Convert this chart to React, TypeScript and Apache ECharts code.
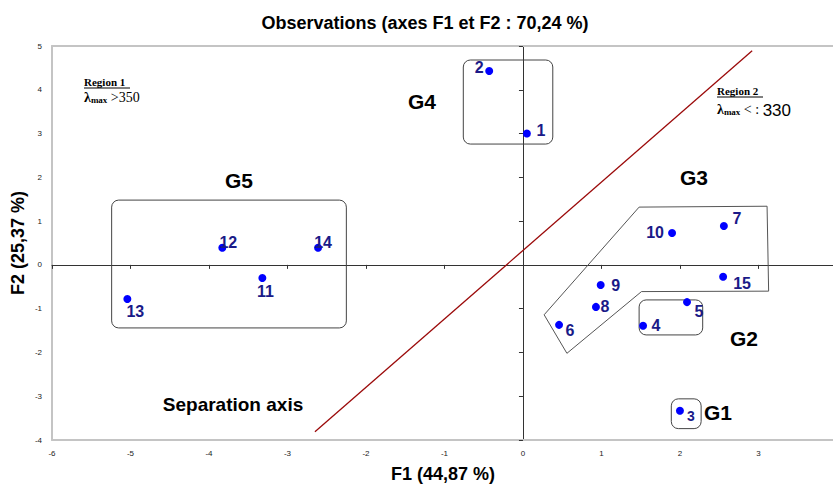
import React, { useEffect, useRef } from "react";
import * as echarts from "echarts";

const pointNames = ["1", "2", "3", "4", "5", "6", "7", "8", "9", "10", "11", "12", "13", "14", "15"];
const f1Values = [0.05, -0.43, 2.0, 1.53, 2.09, 0.46, 2.56, 0.93, 0.99, 1.9, -3.32, -3.83, -5.04, -2.61, 2.55];
const f2Values = [3.0, 4.43, -3.33, -1.39, -0.85, -1.37, 0.89, -0.96, -0.46, 0.73, -0.3, 0.39, -0.78, 0.39, -0.27];
const separationAxis = [[-2.65, -3.81], [2.92, 4.89]];
const groupBoxes = [
  { name: "G4", x1: -0.76, y1: 4.68, x2: 0.38, y2: 2.76 },
  { name: "G5", x1: -5.24, y1: 1.48, x2: -2.25, y2: -1.44 },
  { name: "G2", x1: 1.48, y1: -0.8, x2: 2.29, y2: -1.6 },
  { name: "G1", x1: 1.89, y1: -3.06, x2: 2.27, y2: -3.74 },
];
const g3Polygon = [
  [1.48, 1.32], [3.11, 1.34], [3.13, -0.6], [1.51, -0.61], [0.56, -2.02], [0.27, -1.14], [1.48, 1.32],
];
const xTicks = [-6, -5, -4, -3, -2, -1, 0, 1, 2, 3];
const yTicks = [-4, -3, -2, -1, 0, 1, 2, 3, 4, 5];

// label offsets (styling only) in pixels relative to the dot
const labelOffsets: [number, number][] = [
  [14, -3], [-10, -3], [11, 5], [13, 0], [12, 9], [11, 6], [13, -7], [9, 0], [15, 0], [-17, 0],
  [3, 13], [6, -5], [8, 12], [5, -5], [19, 7],
];

export default function App() {
  const ref = useRef<HTMLDivElement>(null);
  useEffect(() => {
    if (!ref.current) return;
    const chart = echarts.init(ref.current, undefined, { renderer: "svg" });
    const font = "Arial, 'Liberation Sans', sans-serif";
    const serif = "'Times New Roman', 'Liberation Serif', serif";
    const scatterData = pointNames.map((n, i) => ({
      value: [f1Values[i], f2Values[i]],
      name: n,
      label: {
        show: true,
        position: "inside",
        offset: labelOffsets[i],
        formatter: n,
        color: "#1a1a88",
        fontSize: n === "3" ? 14 : 16,
        fontWeight: "bold",
        fontFamily: font,
      },
    }));
    const xFmt = (v: number) => (xTicks.indexOf(v) >= 0 ? String(v) : "");
    const yFmt = (v: number) => (yTicks.indexOf(v) >= 0 ? String(v) : "");
    const baseX = { type: "value", min: -6, max: 3.95, interval: 1, splitLine: { show: false } };
    const baseY = { type: "value", min: -4, max: 5, interval: 1, splitLine: { show: false } };
    const groupLabel = (text: string, x: number, y: number, size = 21) => ({
      type: "text",
      x,
      y,
      style: { text, font: `bold ${size}px ${font}`, fill: "#000", align: "center", verticalAlign: "middle" },
    });
    chart.setOption({
      animation: false,
      backgroundColor: "#ffffff",
      title: {
        text: "Observations (axes F1 et F2 : 70,24 %)",
        left: 420,
        textAlign: "center",
        top: 9,
        textStyle: { fontSize: 18, fontWeight: "bold", fontFamily: font, color: "#000" },
      },
      grid: { left: 52, right: 0, top: 46, bottom: 44 },
      xAxis: [
        {
          ...baseX,
          position: "bottom",
          axisLine: { onZero: false, lineStyle: { color: "#c4c4c4", width: 2 } },
          axisTick: { show: false },
          axisLabel: { formatter: xFmt, fontSize: 8, color: "#222", fontFamily: font, margin: 9, showMaxLabel: false },
        },
        {
          ...baseX,
          position: "bottom",
          axisLine: { onZero: true, onZeroAxisIndex: 0, lineStyle: { color: "#333", width: 1 } },
          axisTick: { show: true, length: 4, lineStyle: { color: "#333" } },
          axisLabel: { show: false },
        },
        {
          ...baseX,
          position: "top",
          axisLine: { onZero: false, lineStyle: { color: "#c4c4c4", width: 2 } },
          axisTick: { show: false },
          axisLabel: { show: false },
        },
      ],
      yAxis: [
        {
          ...baseY,
          position: "left",
          axisLine: { onZero: false, lineStyle: { color: "#c4c4c4", width: 2 } },
          axisTick: { show: false },
          axisLabel: { formatter: yFmt, fontSize: 8, color: "#222", fontFamily: font, margin: 10 },
        },
        {
          ...baseY,
          position: "left",
          axisLine: { onZero: true, onZeroAxisIndex: 0, lineStyle: { color: "#333", width: 1 } },
          axisTick: { show: true, length: 4, lineStyle: { color: "#333" } },
          axisLabel: { show: false },
        },
      ],
      series: [
        {
          type: "line",
          xAxisIndex: 0,
          yAxisIndex: 0,
          data: separationAxis,
          symbol: "none",
          lineStyle: { color: "#9b0a0a", width: 1.3 },
          silent: true,
        },
        {
          type: "line",
          xAxisIndex: 0,
          yAxisIndex: 0,
          data: g3Polygon,
          symbol: "none",
          lineStyle: { color: "#555", width: 1 },
          silent: true,
        },
        {
          type: "custom",
          xAxisIndex: 0,
          yAxisIndex: 0,
          data: groupBoxes.map((b) => [b.x1, b.y1, b.x2, b.y2]),
          renderItem: (params: any, api: any) => {
            const p1 = api.coord([api.value(0), api.value(1)]);
            const p2 = api.coord([api.value(2), api.value(3)]);
            return {
              type: "rect",
              shape: {
                x: Math.min(p1[0], p2[0]),
                y: Math.min(p1[1], p2[1]),
                width: Math.abs(p2[0] - p1[0]),
                height: Math.abs(p2[1] - p1[1]),
                r: 7,
              },
              style: { fill: "none", stroke: "#444", lineWidth: 1 },
            };
          },
          silent: true,
          z: 1,
        },
        {
          type: "scatter",
          xAxisIndex: 0,
          yAxisIndex: 0,
          data: scatterData,
          symbolSize: 8,
          itemStyle: { color: "#0000ff", opacity: 1 },
          z: 5,
        },
      ],
      graphic: [
        { type: "text", x: 443, y: 474, style: { text: "F1 (44,87 %)", font: `bold 18px ${font}`, fill: "#000", align: "center", verticalAlign: "middle" } },
        {
          type: "text",
          x: 18,
          y: 243,
          rotation: Math.PI / 2,
          style: { text: "F2 (25,37 %)", font: `bold 18px ${font}`, fill: "#000", align: "center", verticalAlign: "middle" },
        },
        groupLabel("G4", 422, 101),
        groupLabel("G5", 239, 180),
        groupLabel("G3", 694, 177),
        groupLabel("G2", 744, 338),
        groupLabel("G1", 718, 412),
        groupLabel("Separation axis", 233, 404, 19),
        { type: "text", x: 84, y: 82, style: { text: "Region 1", font: `bold 11px ${serif}`, fill: "#000", verticalAlign: "middle" } },
        { type: "line", shape: { x1: 84, y1: 88, x2: 130, y2: 88 }, style: { stroke: "#000", lineWidth: 1 } },
        {
          type: "text",
          x: 84,
          y: 97,
          style: {
            text: "{l|λ}{s|max}{n| >350}",
            verticalAlign: "middle",
            rich: {
              l: { font: `bold 14px ${serif}`, fill: "#000" },
              s: { font: `bold 9px ${serif}`, fill: "#000", padding: [5, 0, 0, 0] },
              n: { font: `14px ${serif}`, fill: "#000" },
            },
          },
        },
        { type: "text", x: 717, y: 91, style: { text: "Region 2", font: `bold 11px ${serif}`, fill: "#000", verticalAlign: "middle" } },
        { type: "line", shape: { x1: 717, y1: 97, x2: 763, y2: 97 }, style: { stroke: "#000", lineWidth: 1 } },
        {
          type: "text",
          x: 717,
          y: 109,
          style: {
            text: "{l|λ}{s|max}{n| < : }{a|330}",
            verticalAlign: "middle",
            rich: {
              l: { font: `bold 14px ${serif}`, fill: "#000" },
              s: { font: `bold 9px ${serif}`, fill: "#000", padding: [5, 0, 0, 0] },
              n: { font: `14px ${serif}`, fill: "#000" },
              a: { font: `17px ${font}`, fill: "#000", padding: [3, 0, 0, 0] },
            },
          },
        },
      ],
    });
    return () => chart.dispose();
  }, []);
  return <div ref={ref} style={{ position: "fixed", left: 0, top: 0, width: 833, height: 484 }} />;
}
